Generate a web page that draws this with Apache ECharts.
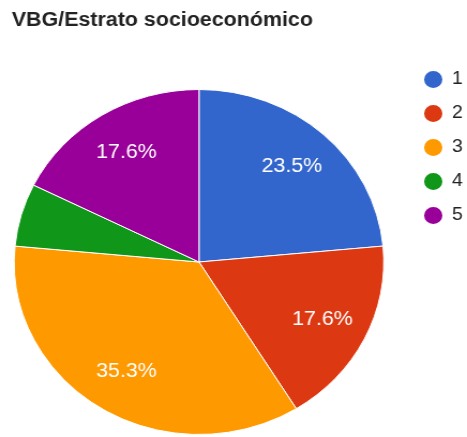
<!DOCTYPE html>
<html>
<head>
<meta charset="utf-8">
<script src="https://cdn.jsdelivr.net/npm/echarts@6/dist/echarts.min.js"></script>
<style>
html,body{margin:0;padding:0;background:#fff;overflow:hidden;}
#wrap{width:467px;height:437px;overflow:hidden;}
#chart{width:436px;height:437px;transform:scaleX(1.0711);transform-origin:0 0;}
</style>
</head>
<body>
<div id="wrap"><div id="chart"></div></div>
<script>
const titleText = 'VBG/Estrato socioeconómico';
const categories = ['1', '2', '3', '4', '5'];
const counts = [4, 3, 6, 1, 3];
const colors = ['#3366cc', '#dc3912', '#ff9900', '#109618', '#990099'];

const total = counts.reduce((a, b) => a + b, 0);
const data = categories.map((c, i) => ({ name: c, value: counts[i] }));
const FONT = '"Liberation Sans", Arial, sans-serif';

const chart = echarts.init(document.getElementById('chart'));
chart.setOption({
  animation: false,
  color: colors,
  title: {
    text: titleText,
    left: 11,
    top: 10,
    padding: 0,
    textStyle: { fontFamily: FONT, fontSize: 20, fontWeight: 'bold', color: '#222' }
  },
  legend: {
    orient: 'vertical',
    left: 394,
    top: 69,
    padding: 0,
    icon: 'circle',
    itemWidth: 19,
    itemHeight: 19,
    itemGap: 13,
    data: categories,
    textStyle: { fontFamily: FONT, fontSize: 18, color: '#222', padding: [0, 0, 0, 3] }
  },
  series: [
    {
      type: 'pie',
      center: [185.8, 262],
      radius: [0, 172.5],
      startAngle: 90,
      clockwise: true,
      data: data,
      label: { show: false },
      labelLine: { show: false },
      itemStyle: { borderColor: '#fff', borderWidth: 1 },
      emphasis: { disabled: true }
    },
    {
      type: 'pie',
      silent: true,
      center: [185.8, 262],
      radius: [79, 172.5],
      startAngle: 90,
      clockwise: true,
      data: data,
      itemStyle: { color: 'rgba(0,0,0,0)' },
      legendHoverLink: false,
      label: {
        show: true,
        position: 'inside',
        fontFamily: FONT,
        fontSize: 20,
        color: '#fff',
        formatter: p => (p.value / total * 100 < 10 ? '' : (p.value / total * 100).toFixed(1) + '%')
      },
      labelLine: { show: false },
      emphasis: { disabled: true }
    }
  ]
});
</script>
</body>
</html>
